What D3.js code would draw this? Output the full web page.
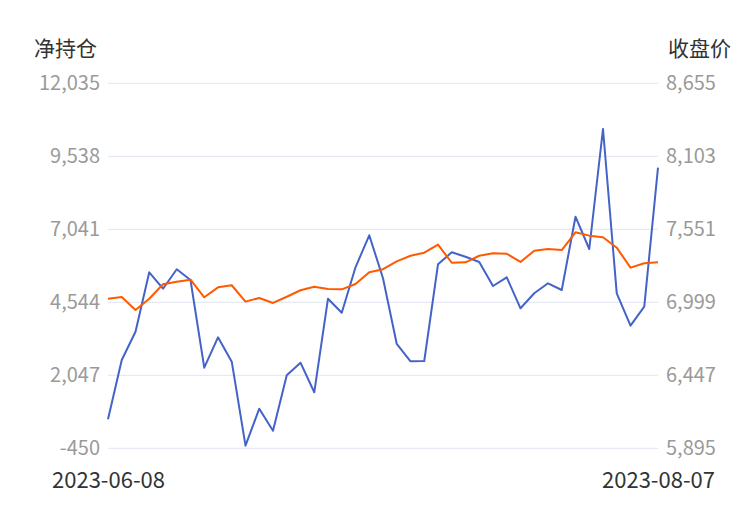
<!DOCTYPE html>
<html><head><meta charset="utf-8">
<script src="https://cdn.jsdelivr.net/npm/d3@7"></script>
<style>body{margin:0;background:#fff}svg{display:block}text{font-family:"Noto Sans CJK SC","Noto Sans",sans-serif}</style>
</head><body><svg id="c" width="750" height="510"></svg>
<script>
const dates = ["2023-06-08","2023-06-09","2023-06-12","2023-06-13","2023-06-14","2023-06-15","2023-06-16","2023-06-19","2023-06-20","2023-06-21","2023-06-26","2023-06-27","2023-06-28","2023-06-29","2023-06-30","2023-07-03","2023-07-04","2023-07-05","2023-07-06","2023-07-07","2023-07-10","2023-07-11","2023-07-12","2023-07-13","2023-07-14","2023-07-17","2023-07-18","2023-07-19","2023-07-20","2023-07-21","2023-07-24","2023-07-25","2023-07-26","2023-07-27","2023-07-28","2023-07-31","2023-08-01","2023-08-02","2023-08-03","2023-08-04","2023-08-07"];
const netPosition = [542,2571,3538,5570,5009,5673,5307,2307,3347,2512,-361,905,152,2047,2478,1466,4667,4188,5741,6836,5365,3118,2526,2536,5844,6254,6104,5923,5102,5399,4339,4852,5194,4965,7472,6367,10472,4852,3744,4394,9148];
const closePrice = [7026,7039,6941,7026,7135,7155,7170,7037,7112,7128,7004,7032,6994,7041,7090,7117,7100,7097,7137,7226,7249,7309,7351,7374,7435,7298,7301,7351,7370,7366,7304,7389,7402,7394,7528,7503,7491,7412,7261,7294,7301];
const leftTicks = [-450,2047,4544,7041,9538,12035];
const rightTicks = [5895,6447,6999,7551,8103,8655];
const leftTitle = "净持仓", rightTitle = "收盘价";

const svg = d3.select("#c");
const L = 108, R = 658, T = 83.3, B = 448.3;
const FF = '"Noto Sans CJK SC","Noto Sans",sans-serif';
const x = d3.scalePoint().domain(dates).range([L, R]);
const yL = d3.scaleLinear().domain([-450, 12035]).range([B, T]);
const yR = d3.scaleLinear().domain([5895, 8655]).range([B, T]);
const fmt = v => d3.format(",")(v).replace("\u2212", "-");

// grid
svg.append("g").selectAll("line").data(leftTicks).join("line")
  .attr("x1", L).attr("x2", R).attr("y1", d => yL(d)).attr("y2", d => yL(d))
  .attr("stroke", "#e0e6f1").attr("stroke-width", 1);

// left axis
const ga = svg.append("g").attr("transform", `translate(${L},0)`)
  .call(d3.axisLeft(yL).tickValues(leftTicks).tickFormat(fmt).tickSize(0).tickPadding(8));
ga.select(".domain").remove();
ga.selectAll("text").attr("font-size", 20).attr("fill", "#9a9a9a").attr("font-family", FF);

const gr = svg.append("g").attr("transform", `translate(${R},0)`)
  .call(d3.axisRight(yR).tickValues(rightTicks).tickFormat(fmt).tickSize(0).tickPadding(8));
gr.select(".domain").remove();
gr.selectAll("text").attr("font-size", 20).attr("fill", "#9a9a9a").attr("font-family", FF);

// x axis
const gx = svg.append("g").attr("transform", `translate(0,${B})`)
  .call(d3.axisBottom(x).tickValues([dates[0], dates[dates.length-1]]).tickSize(0).tickPadding(24));
gx.select(".domain").remove();
gx.selectAll("text").attr("font-size", 22).attr("fill", "#333").attr("font-family", FF);

// titles
svg.append("text").attr("x", 34).attr("y", 56).attr("font-size", 21).attr("fill", "#333").text(leftTitle);
svg.append("text").attr("x", 731).attr("y", 56).attr("text-anchor", "end").attr("font-size", 21).attr("fill", "#333").text(rightTitle);

// lines
svg.append("path").datum(netPosition)
  .attr("fill", "none").attr("stroke", "#4463c8").attr("stroke-width", 2).attr("stroke-linejoin", "round")
  .attr("d", d3.line().x((d, i) => x(dates[i])).y(d => yL(d)));
svg.append("path").datum(closePrice)
  .attr("fill", "none").attr("stroke", "#ff5a00").attr("stroke-width", 2).attr("stroke-linejoin", "round")
  .attr("d", d3.line().x((d, i) => x(dates[i])).y(d => yR(d)));
</script></body></html>
